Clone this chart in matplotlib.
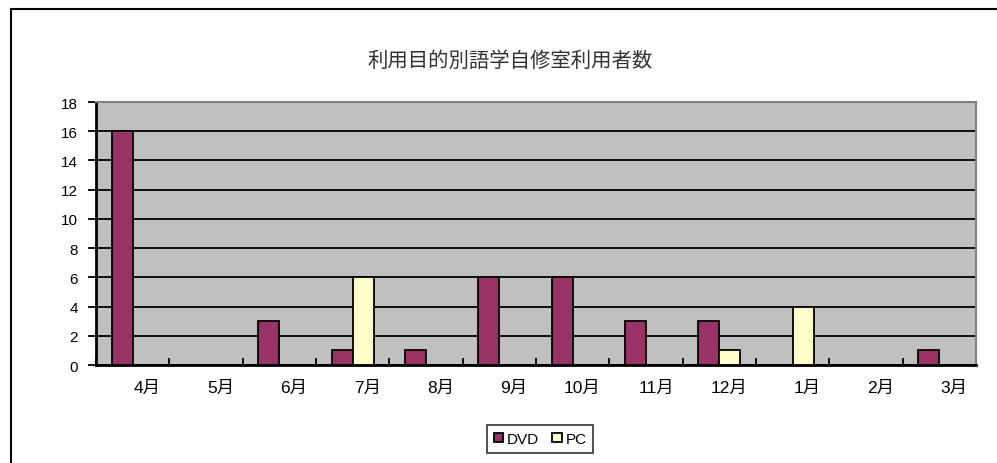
import matplotlib
matplotlib.use("Agg")
import matplotlib.pyplot as plt
import matplotlib.transforms as mtransforms
from matplotlib.patches import Rectangle
import numpy as np

plt.rcParams['font.family'] = ['Liberation Sans', 'Noto Sans CJK JP', 'DejaVu Sans']

months = ['4月', '5月', '6月', '7月', '8月', '9月', '10月', '11月', '12月', '1月', '2月', '3月']
dvd = [16, 0, 3, 1, 1, 6, 6, 3, 3, 0, 0, 1]
pc = [0, 0, 0, 6, 0, 0, 0, 0, 1, 4, 0, 0]
yticks = [0, 2, 4, 6, 8, 10, 12, 14, 16, 18]

fig = plt.figure(figsize=(9.97, 4.64), dpi=100)
ax = fig.add_axes([0.0963, 0.2112, 0.8827, 0.5668])

# marco exterior del gráfico
fig.patches.append(Rectangle((11 / 997, -0.05), 1.2, 1 - 10 / 464 + 0.05,
                             transform=fig.transFigure, fill=False,
                             edgecolor='black', linewidth=1.5))

x = np.arange(len(months))
w = 0.286
ax.set_facecolor('#C0C0C0')
ax.bar(x - w / 2, dvd, w, color='#993366', edgecolor='black', linewidth=1.3,
       label='DVD', zorder=3)
ax.bar(x + w / 2, pc, w, color='#FFFFCC', edgecolor='black', linewidth=1.3,
       label='PC', zorder=3)

ax.set_xlim(-0.5, len(months) - 0.5)
ax.set_ylim(0, 18)
ax.set_yticks(yticks)
ax.yaxis.grid(True, color='black', linewidth=1.3, zorder=1)
ax.set_axisbelow(True)

for s in ['left', 'bottom']:
    ax.spines[s].set_linewidth(2)
    ax.spines[s].set_color('black')
for s in ['top', 'right']:
    ax.spines[s].set_linewidth(1.5)
    ax.spines[s].set_color('#808080')

ax.set_xticks(np.arange(len(months) + 1) - 0.5)
ax.set_xticklabels([])
ax.set_xticks(x, minor=True)
ax.set_xticklabels(months, minor=True, fontsize=12.5)
ax.tick_params(axis='x', which='major', direction='in', length=5, width=1.3)
ax.tick_params(axis='x', which='minor', length=0, pad=11)
ax.tick_params(axis='y', direction='out', length=6, width=1.3, labelsize=11, pad=7)

offset = mtransforms.ScaledTranslation(0.28, 0, fig.dpi_scale_trans)
for lbl in ax.xaxis.get_minorticklabels():
    lbl.set_horizontalalignment('right')
    lbl.set_transform(lbl.get_transform() + offset)

fig.text(0.512, 1 - 61 / 464, '利用目的別語学自修室利用者数', ha='center', va='center',
         fontsize=14.7, color='#333333')

leg = fig.legend(loc='center', bbox_to_anchor=(540 / 997, 1 - 440 / 464), ncol=2,
                 fontsize=11, frameon=True, fancybox=False, edgecolor='black',
                 handlelength=0.6, handleheight=0.6, handletextpad=0.25,
                 columnspacing=0.9, borderpad=0.45)
leg.get_frame().set_linewidth(1.2)

fig.savefig('out.png', dpi=100)
